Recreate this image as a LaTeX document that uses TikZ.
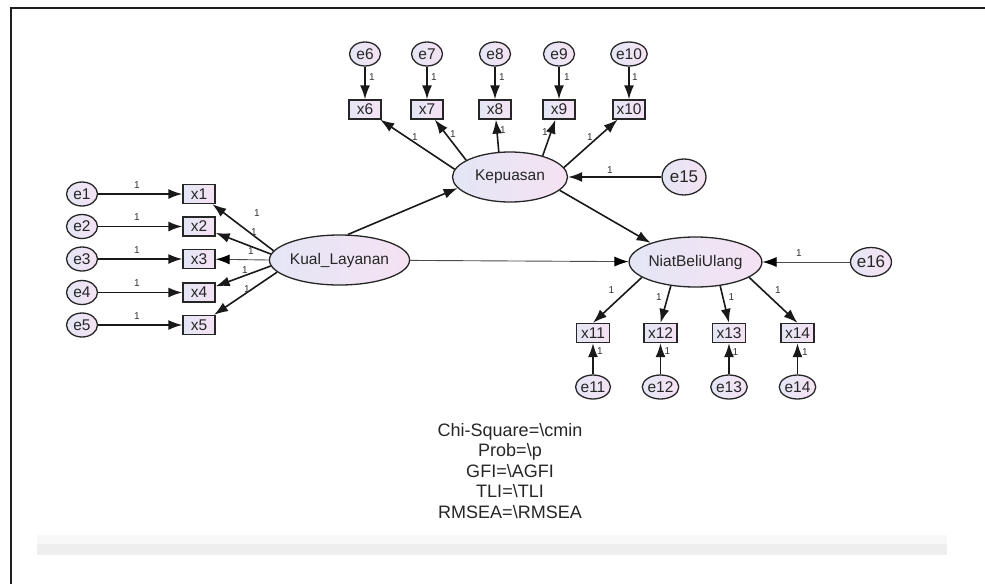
\documentclass[tikz,border=0pt]{standalone}
\usepackage{fontspec}
\setmainfont{Liberation Sans}
\usetikzlibrary{positioning}
\usetikzlibrary{arrows.meta}
\usetikzlibrary{shapes.geometric}

\definecolor{lavleft}{RGB}{228,230,245}
\definecolor{lavright}{RGB}{245,226,243}
\definecolor{framegray}{RGB}{30,30,30}
\definecolor{bargray}{RGB}{238,238,238}
\definecolor{fadegray}{RGB}{248,248,248}

\tikzset{
  errnode/.style={ellipse, draw=black!85, line width=1.3pt, left color=lavleft, right color=lavright,
    minimum width=31pt, minimum height=24pt, inner sep=0pt, text=black!85, font=\fontsize{15.5}{17}\selectfont},
  bigerr/.style={errnode, minimum width=44pt, minimum height=36pt, font=\fontsize{17}{19}\selectfont},
  obsbox/.style={rectangle, draw=black!85, line width=1.3pt, left color=lavleft, right color=lavright,
    minimum width=32pt, minimum height=19pt, inner sep=0pt, text=black!85, font=\fontsize{15.5}{17}\selectfont},
  latent/.style={ellipse, draw=black!85, line width=1.3pt, left color=lavleft, right color=lavright,
    minimum width=115pt, minimum height=50pt, inner sep=0pt, text=black!85, font=\fontsize{15.5}{17}\selectfont},
  regpath/.style={-{Latex[length=14pt,width=10pt]}, line width=1.6pt, black!90},
  thinpath/.style={-{Latex[length=14pt,width=10pt,black]}, line width=0.9pt, black!70},
  one/.style={inner sep=0pt, text=black!80, font=\fontsize{10}{11}\selectfont}
}

\begin{document}
\begin{tikzpicture}[x=1pt, y=-1pt]
  \useasboundingbox (0,0) rectangle (985,584);

  % Frame and bar
  \draw[framegray, line width=2pt] (985,8) -- (11,8) -- (11,584);
  \fill[fadegray] (37,535) rectangle (947,544);
  \fill[bargray] (37,544) rectangle (947,555);

  % Define the latent variables
  \node[latent] (kual) at (339.5,260) {Kual\_Layanan};
  \node[latent] (kep) at (510,177) {Kepuasan};
  \node[latent] (niat) at (695.5,262) {NiatBeliUlang};

  % Define the indicators and their errors
  \foreach \i/\ypos in {1/194, 2/226.5, 3/259, 4/292.5, 5/325} {
    \node[errnode] (e\i) at (82,\ypos) {e\i};
    \node[obsbox] (x\i) at (199,\ypos) {x\i};
  }
  \foreach \i/\xpos in {6/365, 7/427, 8/495, 9/559, 10/629} {
    \node[errnode] (e\i) at (\xpos,54) {e\i};
    \node[obsbox] (x\i) at (\xpos,109.5) {x\i};
  }
  \foreach \i/\xpos in {11/593, 12/660.5, 13/729, 14/797.5} {
    \node[obsbox, minimum width=33pt] (x\i) at (\xpos,333) {x\i};
    \node[errnode] (e\i) at (\xpos,387) {e\i};
  }
  \node[bigerr] (e15) at (684,177) {e15};
  \node[bigerr, minimum width=41pt, minimum height=29pt] (e16) at (871,262) {e16};

  % Draw the lines
  \foreach \i in {1,...,14}
    \draw[regpath] (e\i) -- (x\i);
  \foreach \i/\ang in {1/172, 2/175, 4/185, 5/191}
    \draw[regpath] (kual.\ang) -- (x\i);
  \draw[thinpath] (kual.180) -- (x3);
  \foreach \i/\ang in {6/172, 7/159, 8/114, 9/33, 10/10}
    \draw[regpath] (kep.\ang) -- (x\i);
  \foreach \i/\ang in {11/196, 12/224, 13/316, 14/344}
    \draw[regpath] (niat.\ang) -- (x\i.north);
  \draw[regpath] (kual.72) -- (kep.192);
  \draw[regpath] (kep.345) -- (niat.157);
  \draw[thinpath] (kual) -- (niat);
  \draw[regpath] (e15) -- (kep);
  \draw[thinpath] (e16) -- (niat);

  % Weights
  \foreach \n/\xpos/\ypos in {a/137/185, b/137/217.5, c/137/250, d/137/283, e/137/316.5,
      f/257/213, g/254/232, h/251/251, i/245/270, j/247/289,
      k/372/77, l/434/77, m/502/77, n/567/77, o/635/77,
      p/415/137, q/453/134, r/503/130, s/545/132, t/590/137,
      u/610/170, v/799/253,
      w/611.5/290, x/659/297, y/731.5/297, z/778/290,
      aa/600/351.5, bb/667.5/351.5, cc/735.5/352, dd/805/352}
    \node[one] (w\n) at (\xpos,\ypos) {1};

  \node[align=center, text=black!85, font=\fontsize{18}{20.5}\selectfont] (fitindex) at (510,471)
    {Chi-Square=\textbackslash cmin\\Prob=\textbackslash p\\GFI=\textbackslash AGFI\\TLI=\textbackslash TLI\\RMSEA=\textbackslash RMSEA};
\end{tikzpicture}
\end{document}
